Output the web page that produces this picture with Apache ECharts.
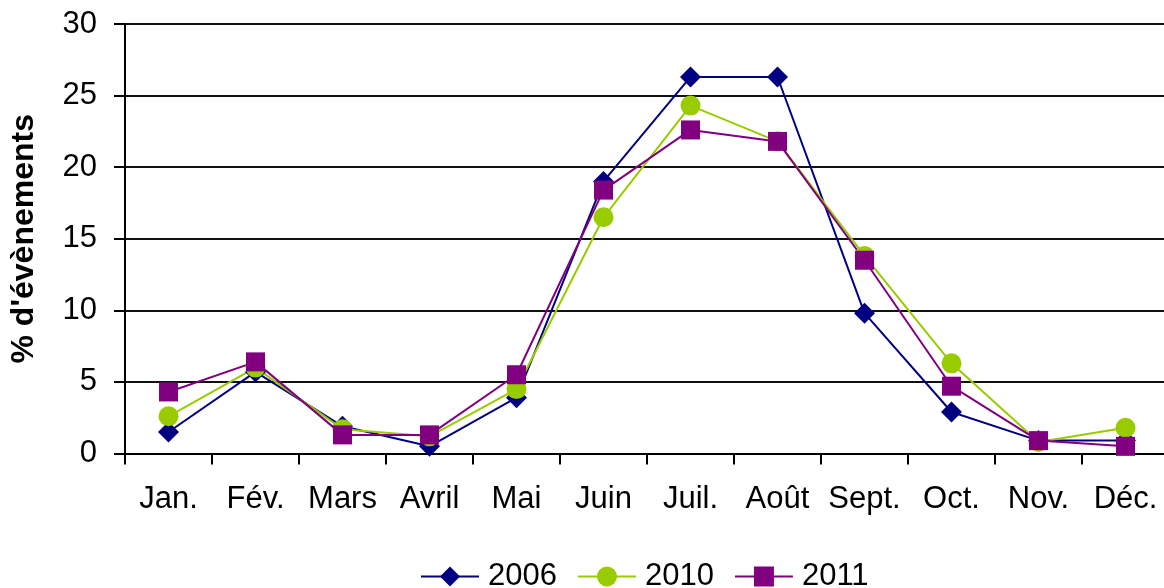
<!DOCTYPE html>
<html>
<head>
<meta charset="utf-8">
<script src="https://cdn.jsdelivr.net/npm/echarts@6/dist/echarts.min.js"></script>
<style>
html,body{margin:0;padding:0;background:#fff;}
#chart{width:1164px;height:588px;}
</style>
</head>
<body>
<div id="chart"></div>
<script>
const categories = ['Jan.', 'Fév.', 'Mars', 'Avril', 'Mai', 'Juin', 'Juil.', 'Août', 'Sept.', 'Oct.', 'Nov.', 'Déc.'];
const s2006 = [1.5, 5.7, 1.9, 0.5, 3.9, 19.0, 26.3, 26.3, 9.8, 2.9, 0.9, 0.9];
const s2010 = [2.6, 6.0, 1.7, 1.2, 4.5, 16.5, 24.3, 21.8, 13.8, 6.3, 0.8, 1.8];
const s2011 = [4.3, 6.4, 1.3, 1.3, 5.5, 18.4, 22.6, 21.8, 13.5, 4.7, 0.9, 0.5];
const seriesNames = ['2006', '2010', '2011'];
const yTitle = "% d'évènements";

const FONT = '"Liberation Sans", Arial, sans-serif';
const chart = echarts.init(document.getElementById('chart'), null, {renderer: 'canvas'});

function mk(name, data, color, symbol, size) {
  return {
    name: name, type: 'line', data: data,
    symbol: symbol, symbolSize: size,
    lineStyle: {color: color, width: 2},
    itemStyle: {color: color},
    emphasis: {disabled: true},
    animation: false
  };
}

chart.setOption({
  animation: false,
  backgroundColor: '#fff',
  grid: {left: 125, width: 1044, top: 24, bottom: 134.5, containLabel: false, outerBoundsMode: 'none'},
  xAxis: {
    type: 'category', data: categories, boundaryGap: true,
    axisLine: {show: true, lineStyle: {color: '#000', width: 2}},
    axisTick: {show: true, inside: false, length: 11, interval: 0, lineStyle: {color: '#000', width: 2}},
    axisLabel: {interval: 0, margin: 30, color: '#000', fontSize: 31, fontFamily: FONT},
    splitLine: {show: false}
  },
  yAxis: {
    type: 'value', min: 0, max: 30, interval: 5,
    name: yTitle, nameLocation: 'middle', nameRotate: 90, nameGap: 85,
    nameTextStyle: {fontSize: 32, fontWeight: 'bold', color: '#000', fontFamily: FONT},
    axisLine: {show: true, lineStyle: {color: '#000', width: 2}},
    axisTick: {show: true, inside: false, length: 11, lineStyle: {color: '#000', width: 2}},
    axisLabel: {margin: 28, color: '#000', fontSize: 31, fontFamily: FONT},
    splitLine: {show: true, lineStyle: {color: '#111', width: 2}}
  },
  legend: {
    data: seriesNames,
    left: 420, top: 561, padding: 0,
    itemWidth: 58, itemHeight: 25, itemGap: 20,
    textStyle: {fontSize: 31, color: '#000', fontFamily: FONT, padding: [0, 0, 0, 4]}
  },
  series: [
    mk(seriesNames[0], s2006, '#000080', 'diamond', 21),
    mk(seriesNames[1], s2010, '#99CC00', 'circle', 20),
    mk(seriesNames[2], s2011, '#800080', 'rect', 19)
  ]
});
</script>
</body>
</html>
